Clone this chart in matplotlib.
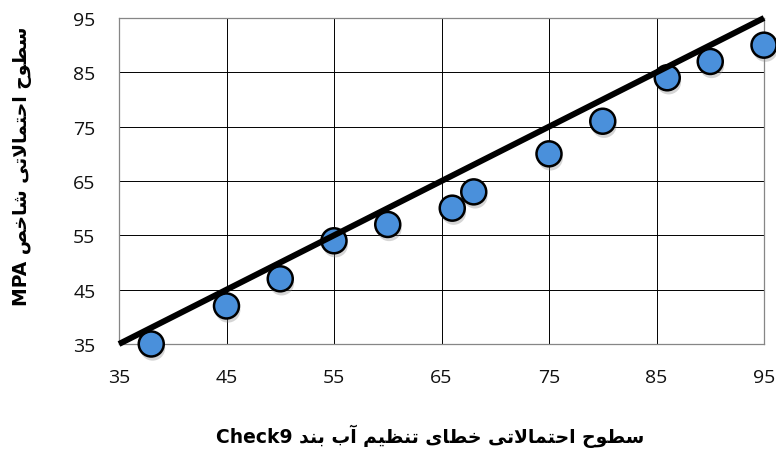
import matplotlib
matplotlib.use("Agg")
import matplotlib.pyplot as plt
import matplotlib.patheffects as pe

# ---------------- data ----------------
x_vals = [38, 45, 50, 55, 60, 66, 68, 75, 80, 86, 90, 95]
y_vals = [35, 42, 47, 54, 57, 60, 63, 70, 76, 84, 87, 90]
line_x = [35, 95]
line_y = [35, 95]
ticks = [35, 45, 55, 65, 75, 85, 95]
xlabel_fa = "سطوح احتمالاتی خطای تنظیم آب بند"
xlabel_latin = "Check9"
ylabel_fa = "سطوح احتمالاتی شاخص"
ylabel_latin = "MPA"

# ---------------- minimal Arabic/Persian shaping ----------------
FORMS = {
    'ا': ('\uFE8D', '\uFE8E', None, None),
    'آ': ('\uFE81', '\uFE82', None, None),
    'ب': ('\uFE8F', '\uFE90', '\uFE91', '\uFE92'),
    'ت': ('\uFE95', '\uFE96', '\uFE97', '\uFE98'),
    'ح': ('\uFEA1', '\uFEA2', '\uFEA3', '\uFEA4'),
    'خ': ('\uFEA5', '\uFEA6', '\uFEA7', '\uFEA8'),
    'د': ('\uFEA9', '\uFEAA', None, None),
    'س': ('\uFEB1', '\uFEB2', '\uFEB3', '\uFEB4'),
    'ش': ('\uFEB5', '\uFEB6', '\uFEB7', '\uFEB8'),
    'ص': ('\uFEB9', '\uFEBA', '\uFEBB', '\uFEBC'),
    'ط': ('\uFEC1', '\uFEC2', '\uFEC3', '\uFEC4'),
    'ظ': ('\uFEC5', '\uFEC6', '\uFEC7', '\uFEC8'),
    'ل': ('\uFEDD', '\uFEDE', '\uFEDF', '\uFEE0'),
    'م': ('\uFEE1', '\uFEE2', '\uFEE3', '\uFEE4'),
    'ن': ('\uFEE5', '\uFEE6', '\uFEE7', '\uFEE8'),
    'و': ('\uFEED', '\uFEEE', None, None),
    'ی': ('\uFBFC', '\uFBFD', '\uFBFE', '\uFBFF'),
}


def dual(c):
    return c in FORMS and FORMS[c][2] is not None


def shape_word(w):
    out = []
    i = 0
    n = len(w)
    while i < n:
        c = w[i]
        prev_j = i > 0 and dual(w[i - 1])
        if c == 'ل' and i + 1 < n and w[i + 1] == 'ا':
            out.append('\uFEFC' if prev_j else '\uFEFB')
            i += 2
            continue
        if c not in FORMS:
            out.append(c)
            i += 1
            continue
        next_j = dual(c) and i + 1 < n and w[i + 1] in FORMS
        iso, fin, ini, med = FORMS[c]
        if prev_j and next_j:
            out.append(med)
        elif prev_j:
            out.append(fin)
        elif next_j:
            out.append(ini)
        else:
            out.append(iso)
        i += 1
    return ''.join(out)


def visual_rtl(text):
    words = text.split(' ')
    return ' '.join(shape_word(w)[::-1] for w in reversed(words))


# ---------------- figure ----------------
fig = plt.figure(figsize=(7.76, 4.52), dpi=100)
ax = fig.add_axes([119 / 776, 1 - 345 / 452, (764 - 119) / 776, (345 - 19) / 452])

ax.plot(x_vals, y_vals, linestyle='none', marker='o', markersize=18,
        markerfacecolor='#4A90DB', markeredgecolor='black', markeredgewidth=1.8,
        zorder=3,
        path_effects=[pe.SimplePatchShadow(offset=(1.0, -3.0), shadow_rgbFace='#888888', alpha=0.35),
                      pe.Normal()],
        clip_on=False)
ax.plot(line_x, line_y, color='black', linewidth=4.3, solid_capstyle='butt', zorder=4,
        clip_on=False)

ax.set_xlim(35, 95)
ax.set_ylim(35, 95)
ax.set_xticks(ticks)
ax.set_yticks(ticks)
ax.grid(True, color='black', linewidth=0.7)
ax.set_axisbelow(True)
for s in ax.spines.values():
    s.set_color('#868686')
    s.set_linewidth(0.9)
ax.tick_params(length=0, labelsize=14, pad=17)
for lab in ax.get_xticklabels() + ax.get_yticklabels():
    lab.set_fontfamily('Open Sans')
    lab.set_color('#111111')

fig.text(430 / 776, 1 - 436 / 452, xlabel_latin + ' ' + visual_rtl(xlabel_fa),
         ha='center', va='center', fontsize=13.5, fontweight='bold',
         family=['DejaVu Sans'])
fig.text(23 / 776, 1 - 166 / 452, ylabel_latin + ' ' + visual_rtl(ylabel_fa),
         ha='center', va='center', rotation=90, fontsize=13.5, fontweight='bold',
         family=['DejaVu Sans'])

fig.savefig('out.png', dpi=100)
